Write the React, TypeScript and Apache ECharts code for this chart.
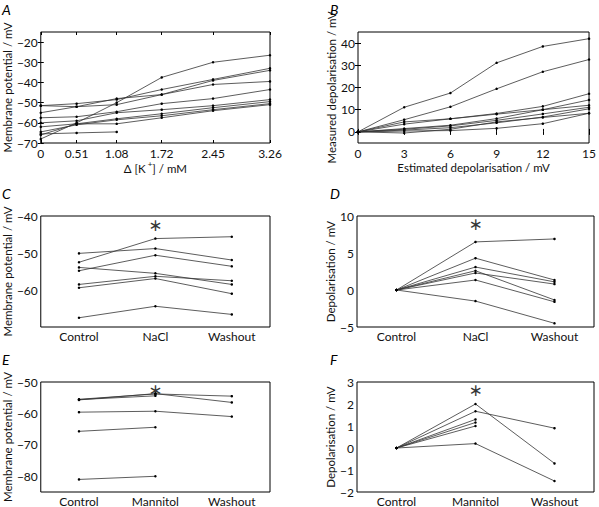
import React, { useEffect, useRef } from 'react';
import * as echarts from 'echarts';

// ---------- Data ----------
const A_X = [0, 0.51, 1.08, 1.72, 2.45, 3.26];
const A_LINES: (number | null)[][] = [
  [-68, -60, -50, -37.5, -30, -26.5],
  [-51.5, -50.5, -48.5, -43.5, -38.5, -33],
  [-55, -52, -51, -46, -39, -34],
  [-51.5, -52, -48, -46, -41, -39.5],
  [-57.5, -57, -54.5, -50.5, -48, -43.5],
  [-60, -59, -55, -53.5, -51.5, -48.5],
  [-62, -60.5, -58, -55.5, -52.5, -49.5],
  [-64.5, -61, -58.5, -56.5, -53.5, -50.5],
  [-66, -60.5, -60.5, -57.5, -54, -51],
  [-65.5, -65, -64.5, null, null, null],
];
const A_Y_TICKS = [-70, -60, -50, -40, -30, -20];

const B_X = [0, 3, 6, 9, 12, 15];
const B_LINES: number[][] = [
  [0, 11.1, 17.5, 31.1, 38.5, 42],
  [0, 5.5, 11.3, 19.4, 27.1, 32.6],
  [0, 4.5, 5.9, 8.3, 11.5, 17.2],
  [0, 3.5, 5.9, 8.0, 10.0, 14.4],
  [0, 1.5, 3.0, 6.0, 10.0, 12.0],
  [0, 1.2, 2.7, 5.2, 8.1, 11.1],
  [0, 0.8, 1.9, 4.1, 6.7, 10.4],
  [0, -0.5, 1.2, 4.5, 6.5, 8.4],
  [0, 0.4, 0.6, 1.6, 3.7, 8.4],
];
const B_Y_TICKS = [0, 10, 20, 30, 40];

const C_CATS = ['Control', 'NaCl', 'Washout'];
const C_LINES: number[][] = [
  [-52.5, -46.1, -45.6],
  [-50.1, -48.8, -51.9],
  [-54.8, -50.6, -53.6],
  [-53.9, -55.5, -58.5],
  [-58.5, -56.3, -57.5],
  [-59.4, -56.9, -61.0],
  [-67.5, -64.4, -66.6],
];
const C_Y_TICKS = [-60, -50, -40];
const C_STAR = -42.3;

const D_LINES: number[][] = [
  [0, 6.5, 6.9],
  [0, 4.3, 1.35],
  [0, 3.1, 1.1],
  [0, 2.6, -1.35],
  [0, 2.3, 0.8],
  [0, 1.35, -1.6],
  [0, -1.5, -4.5],
];
const D_Y_TICKS = [-5, 0, 5, 10];
const D_STAR = 8.9;

const E_CATS = ['Control', 'Mannitol', 'Washout'];
const E_LINES: (number | null)[][] = [
  [-55.5, -53.8, -54.5],
  [-55.7, -53.7, -56.5],
  [-55.6, -54.4, null],
  [-59.6, -59.3, -61.0],
  [-65.7, -64.4, null],
  [-81.0, -80.0, null],
];
const E_Y_TICKS = [-80, -70, -60, -50];
const E_STAR = -52.6;

const F_LINES: (number | null)[][] = [
  [0, 2.0, -0.7],
  [0, 1.67, 0.9],
  [0, 1.3, null],
  [0, 1.16, null],
  [0, 1.0, null],
  [0, 0.2, -1.5],
];
const F_Y_TICKS = [-2, -1, 0, 1, 2, 3];
const F_STAR = 2.65;

// ---------- Helpers ----------
const FONT = 'Lato';
const TXT = '#111';
const LINE = '#333';
const NAME_SIZE = 11.5;
const fmt = (v: number) => String(v).replace('-', '\u2212');

type Panel = {
  letter: string;
  grid: { left: number; top: number; width: number; height: number };
  kind: 'value' | 'category';
  xs?: number[];
  cats?: string[];
  xMin?: number;
  xMax?: number;
  yMin: number;
  yMax: number;
  yTicks: number[];
  lines: (number | null)[][];
  yName: string;
  yGap: number;
  xName?: string;
  xGap?: number;
  star?: number;
};

const PANELS: Panel[] = [
  {
    letter: 'A', grid: { left: 34, top: 32, width: 236, height: 111 }, kind: 'value',
    xs: A_X, xMin: 0, xMax: 3.26, yMin: -70, yMax: -15, yTicks: A_Y_TICKS, lines: A_LINES,
    yName: 'Membrane potential / mV', yGap: 21, xName: '{a|\u0394 [K}{s| +}{a|] / mM}', xGap: 19,
  },
  {
    letter: 'B', grid: { left: 358, top: 32, width: 235, height: 111 }, kind: 'value',
    xs: B_X, xMin: 0, xMax: 15, yMin: -5, yMax: 45, yTicks: B_Y_TICKS, lines: B_LINES,
    yName: 'Measured depolarisation / mV', yGap: 17, xName: 'Estimated depolarisation / mV', xGap: 18,
  },
  {
    letter: 'C', grid: { left: 34, top: 216, width: 236, height: 111 }, kind: 'category',
    cats: C_CATS, yMin: -70, yMax: -40, yTicks: C_Y_TICKS, lines: C_LINES,
    yName: 'Membrane potential / mV', yGap: 21, star: C_STAR,
  },
  {
    letter: 'D', grid: { left: 357, top: 216, width: 237, height: 111 }, kind: 'category',
    cats: C_CATS, yMin: -5, yMax: 10, yTicks: D_Y_TICKS, lines: D_LINES,
    yName: 'Depolarisation / mV', yGap: 17, star: D_STAR,
  },
  {
    letter: 'E', grid: { left: 34, top: 382, width: 236, height: 111 }, kind: 'category',
    cats: E_CATS, yMin: -85, yMax: -50, yTicks: E_Y_TICKS, lines: E_LINES,
    yName: 'Membrane potential / mV', yGap: 21, star: E_STAR,
  },
  {
    letter: 'F', grid: { left: 357, top: 382, width: 237, height: 111 }, kind: 'category',
    cats: E_CATS, yMin: -2, yMax: 3, yTicks: F_Y_TICKS, lines: F_LINES,
    yName: 'Depolarisation / mV', yGap: 17, star: F_STAR,
  },
];

function buildOption() {
  const grid: any[] = [];
  const xAxis: any[] = [];
  const yAxis: any[] = [];
  const series: any[] = [];
  const graphic: any[] = [];

  PANELS.forEach((p, i) => {
    grid.push({
      left: p.grid.left, top: p.grid.top, width: p.grid.width, height: p.grid.height,
      show: true, borderColor: '#000', borderWidth: 1, backgroundColor: 'transparent',
    });
    const tickStyle = { inside: true, length: 3, lineStyle: { color: '#000', width: 1 } };
    const labelStyle = { color: TXT, fontFamily: FONT, fontSize: 12 };

    if (p.kind === 'value') {
      const base = { type: 'value', gridIndex: i, min: p.xMin, max: p.xMax, splitLine: { show: false }, axisLine: { show: false } };
      xAxis.push({
        ...base, position: 'bottom',
        axisTick: { ...tickStyle, customValues: p.xs },
        axisLabel: { ...labelStyle, margin: 4, lineHeight: 12, customValues: p.xs, formatter: (v: number) => fmt(v) },
        name: p.xName, nameLocation: 'middle', nameGap: p.xGap,
        nameTextStyle: {
          color: TXT, fontFamily: FONT, fontSize: NAME_SIZE, lineHeight: 12,
          rich: {
            a: { color: TXT, fontFamily: FONT, fontSize: NAME_SIZE },
            s: { color: TXT, fontFamily: FONT, fontSize: 8, padding: [0, 0, 8, 0] },
          },
        },
      });
      xAxis.push({
        ...base, position: 'top',
        axisTick: { ...tickStyle, customValues: p.xs },
        axisLabel: { show: false },
      });
    } else {
      const base = {
        type: 'category', gridIndex: i, data: p.cats, boundaryGap: true,
        splitLine: { show: false }, axisLine: { show: false },
      };
      xAxis.push({
        ...base, position: 'bottom',
        axisTick: { ...tickStyle, alignWithLabel: true, interval: 0 },
        axisLabel: { ...labelStyle, margin: 3, interval: 0 },
      });
      xAxis.push({
        ...base, position: 'top',
        axisTick: { ...tickStyle, alignWithLabel: true, interval: 0 },
        axisLabel: { show: false },
      });
    }

    const yBase = { type: 'value', gridIndex: i, min: p.yMin, max: p.yMax, splitLine: { show: false }, axisLine: { show: false } };
    yAxis.push({
      ...yBase, position: 'left',
      axisTick: { ...tickStyle, customValues: p.yTicks },
      axisLabel: { ...labelStyle, margin: 3, customValues: p.yTicks, formatter: (v: number) => fmt(v) },
      name: p.yName, nameLocation: 'middle', nameGap: p.yGap, nameRotate: 90,
      nameTextStyle: { color: TXT, fontFamily: FONT, fontSize: NAME_SIZE },
    });
    yAxis.push({
      ...yBase, position: 'right',
      axisTick: { ...tickStyle, customValues: p.yTicks },
      axisLabel: { show: false },
    });

    p.lines.forEach((ln) => {
      const data = p.kind === 'value'
        ? (p.xs as number[]).map((x, k) => [x, ln[k] === null ? null : ln[k]]).filter((d) => d[1] !== null)
        : ln.map((v) => (v === null ? '-' : v));
      series.push({
        type: 'line', xAxisIndex: 2 * i, yAxisIndex: 2 * i, data,
        symbol: 'circle', symbolSize: 2.5, showSymbol: true,
        lineStyle: { color: LINE, width: 0.8 },
        itemStyle: { color: '#000' },
        connectNulls: false, silent: true,
      });
    });

    if (p.star !== undefined) {
      series.push({
        type: 'scatter', xAxisIndex: 2 * i, yAxisIndex: 2 * i,
        data: [[1, p.star]], symbolSize: 0, silent: true,
        itemStyle: { color: '#000' },
        label: {
          show: true, position: 'inside', formatter: '\u2217',
          fontSize: 17, color: '#000', fontFamily: 'DejaVu Sans',
          textBorderColor: 'transparent', textBorderWidth: 0,
        },
      });
    }

    graphic.push({
      type: 'text',
      left: p.grid.left < 100 ? 2 : 330,
      top: p.grid.top - 30,
      style: { text: p.letter, font: `italic 14px ${FONT}`, fill: '#000' },
    });
  });

  return {
    animation: false,
    backgroundColor: '#fff',
    grid, xAxis, yAxis, series, graphic,
  };
}

export default function App() {
  const ref = useRef<HTMLDivElement>(null);
  useEffect(() => {
    if (!ref.current) return;
    const chart = echarts.init(ref.current, undefined, { renderer: 'svg' });
    chart.setOption(buildOption() as any);
    return () => chart.dispose();
  }, []);
  return (
    <div
      ref={ref}
      style={{ position: 'fixed', left: 0, top: 0, width: 599, height: 507, background: '#fff' }}
    />
  );
}
